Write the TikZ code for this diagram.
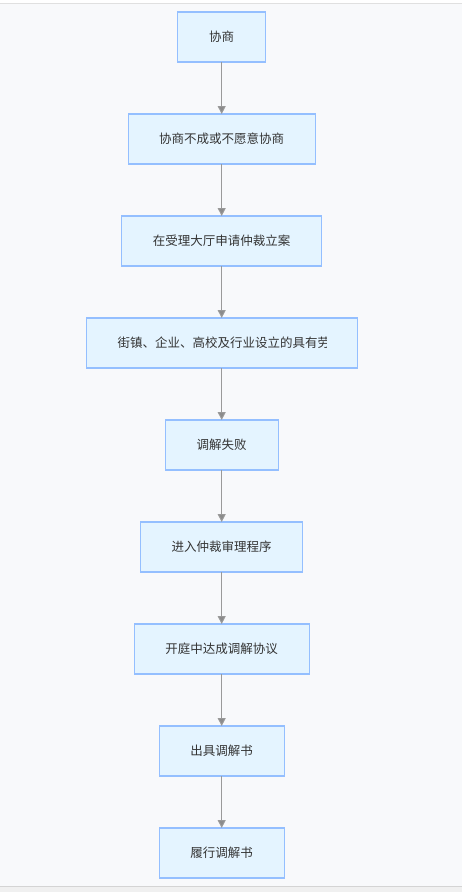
\documentclass[tikz,border=0pt]{standalone}
\usepackage{fontspec}
\newfontfamily\cjk{Noto Sans CJK SC}
\usetikzlibrary{arrows.meta}
\definecolor{bgc}{HTML}{F8F9FB}
\definecolor{boxfill}{HTML}{E4F4FF}
\definecolor{boxdraw}{HTML}{94BFFF}
\definecolor{arrc}{HTML}{9A9A9A}
\definecolor{txtc}{HTML}{333333}
\tikzset{
  stepbox/.style={draw=boxdraw, fill=boxfill, line width=1.4pt, minimum height=50pt,
    inner sep=0pt, outer sep=0pt, text=txtc, font=\cjk\fontsize{12.5}{15}\selectfont},
  flow/.style={draw=arrc, line width=1pt, -{Triangle[width=8pt,length=8pt,fill=arrc!90!black]}}
}
\begin{document}
\begin{tikzpicture}[x=1pt,y=-1pt]
\useasboundingbox (0,0) rectangle (462,892);
\fill[white] (0,0) rectangle (462,892);
\fill[bgc] (0,3.5) rectangle (462,886);
\fill[black!6] (0,886) rectangle (462,892);
\draw[black!12, line width=1pt] (0,3.5) -- (462,3.5);
\draw[black!17, line width=1.5pt] (0,886.5) -- (462,886.5);
\node[stepbox, minimum width=88pt]  (n1) at (221.7,37)  {协商};
\node[stepbox, minimum width=187pt] (n2) at (221.7,139) {协商不成或不愿意协商};
\node[stepbox, minimum width=200pt] (n3) at (221.7,241) {在受理大厅申请仲裁立案};
\node[stepbox, minimum width=271pt] (n4) at (221.7,343) {};
\begin{scope}
  \clip (86,318) rectangle (326.5,368);
  \node[anchor=west, inner sep=0pt, text=txtc, font=\cjk\fontsize{12.5}{15}\selectfont] (n4t) at (117.3,343) {街镇、企业、高校及行业设立的具有劳};
\end{scope}
\node[stepbox, minimum width=113pt] (n5) at (221.7,445) {调解失败};
\node[stepbox, minimum width=162pt] (n6) at (221.7,547) {进入仲裁审理程序};
\node[stepbox, minimum width=175pt] (n7) at (221.7,649) {开庭中达成调解协议};
\node[stepbox, minimum width=125pt] (n8) at (221.7,751) {出具调解书};
\node[stepbox, minimum width=125pt] (n9) at (221.7,853) {履行调解书};
\draw[flow] (n1) -- (n2);
\draw[flow] (n2) -- (n3);
\draw[flow] (n3) -- (n4);
\draw[flow] (n4) -- (n5);
\draw[flow] (n5) -- (n6);
\draw[flow] (n6) -- (n7);
\draw[flow] (n7) -- (n8);
\draw[flow] (n8) -- (n9);
\end{tikzpicture}
\end{document}
